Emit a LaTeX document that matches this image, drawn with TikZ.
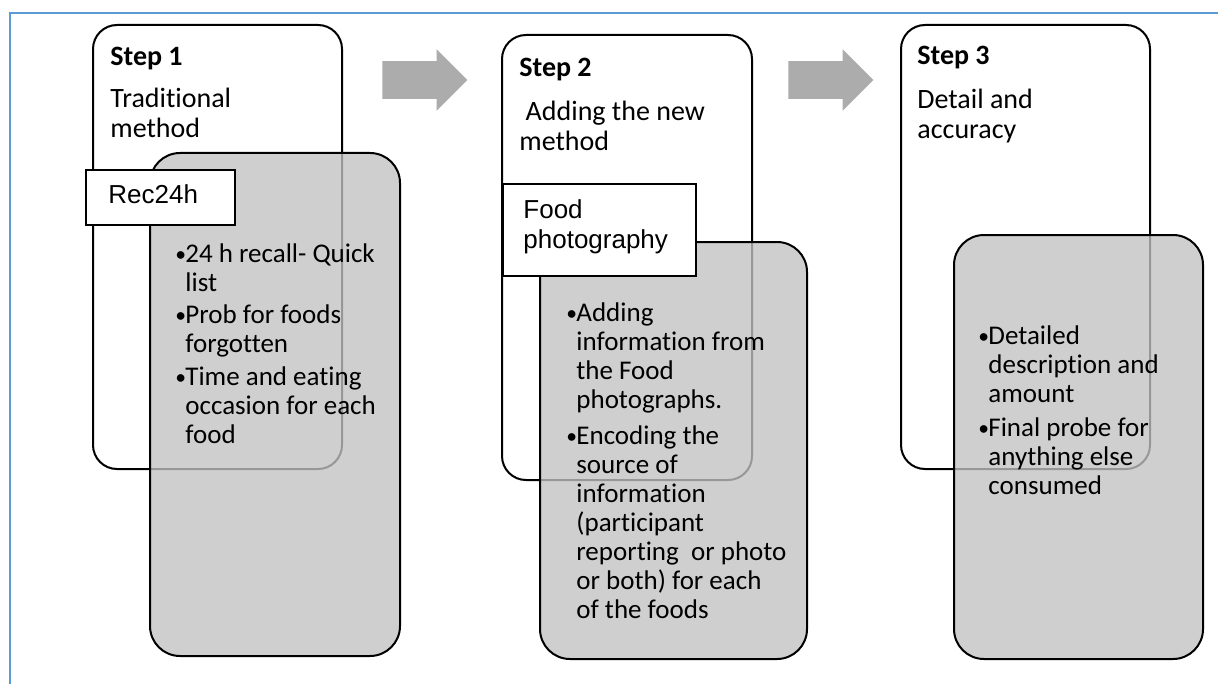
\documentclass[tikz,border=0pt]{standalone}
\usepackage{fontspec}
\usepackage{graphicx}
\setmainfont{Carlito}[Ligatures=NoCommon]
\newfontfamily\arialfont{Liberation Sans}
\usetikzlibrary{shapes.arrows,fit}
\definecolor{frameblue}{HTML}{5B9BD5}
\definecolor{boxgray}{HTML}{C2C2C2}
\tikzstyle{stepbox}=[draw=black,line width=1pt,rounded corners=12pt,fill=white,inner sep=0pt]
\tikzstyle{notebox}=[draw=black,line width=1pt,rounded corners=15pt,fill=boxgray,fill opacity=0.78,draw opacity=1,inner sep=0pt]
\tikzstyle{tagbox}=[draw=black,line width=1pt,fill=white,inner sep=0pt]
\tikzstyle{flowarrow}=[single arrow,fill=gray!65,draw=none,inner sep=0pt,minimum height=42.5pt,single arrow head extend=6pt,shape border rotate=0,anchor=tail]
\tikzstyle{stephead}=[anchor=base west,inner sep=0pt,font=\fontsize{14}{15}\selectfont\bfseries]
\tikzstyle{steptext}=[anchor=base west,inner sep=0pt,font=\fontsize{14}{15}\selectfont]
\tikzstyle{bullets}=[anchor=base west,inner sep=0pt,font=\fontsize{13.5}{14.5}\selectfont]
\tikzstyle{tagtext}=[anchor=base west,inner sep=0pt,font=\fontsize{13}{15}\arialfont]
\newcommand{\bul}{\makebox[5pt][l]{\raisebox{0.4pt}{\scalebox{0.8}{\textbullet}}}}
\newcommand{\shaft}{\rule[-9.25pt]{0pt}{18.5pt}}

\begin{document}
\begin{tikzpicture}[x=0.5pt,y=-0.5pt]
				\useasboundingbox (0,0) rectangle (1218,684);
				% frame on top and left
				\draw[frameblue,line width=1pt] (10,684) -- (10,13) -- (1218,13);

				% First the white step boxes
				\foreach \name/\xa/\ya/\xb/\yb in {s1/93/25/342/469, s2/502/35/752/480, s3/901/25/1150/469}
				\node[stepbox, fit={(\xa,\ya) (\xb,\yb)}] (\name) {};

				% grey note boxes over them
				\foreach \name/\xa/\ya/\xb/\yb in {n1/150/153/400/656, n2/540/242/807/659, n3/954/235/1203/659}
				\node[notebox, fit={(\xa,\ya) (\xb,\yb)}] (\name) {};

				% method tags
				\node[tagbox, fit={(86,170) (235,225)}] (tag1) {};
				\node[tagbox, fit={(503,184) (696,276)}] (tag2) {};
				\node[tagtext] (tag1text) at (108,204) {Rec24h};
				\node[tagtext] (tag2text) at (523,218) {\begin{tabular}[t]{@{}l@{}}Food\\photography\end{tabular}};

				% arrows between steps
				\node[flowarrow] (a12) at (382,80) {\shaft};
				\node[flowarrow] (a23) at (788,80) {\shaft};

				% headings
				\foreach \name/\x/\y/\num in {h1/110/66/1, h2/519/77/2, h3/917/65/3}
				\node[stephead] (\name) at (\x,\y) {Step \num};
				\node[steptext] (d1) at (110,108) {\begin{tabular}[t]{@{}l@{}}Traditional\\method\end{tabular}};
				\node[steptext] (d2) at (519,121) {\begin{tabular}[t]{@{}l@{}}\ Adding the new\\method\end{tabular}};
				\node[steptext] (d3) at (917,109) {\begin{tabular}[t]{@{}l@{}}Detail and\\accuracy\end{tabular}};

				% bullet lists
				\node[bullets] (l1) at (175,262) {\begin{tabular}[t]{@{}l@{}l@{}}
					\bul&24 h recall- Quick\\&list\\[1.75pt]
					\bul&Prob for foods\\&forgotten\\[1.75pt]
					\bul&Time and eating\\&occasion for each\\&food
				\end{tabular}};
				\node[bullets] (l2) at (566,321) {\begin{tabular}[t]{@{}l@{}l@{}}
					\bul&Adding\\&information from\\&the Food\\&photographs.\\[3.5pt]
					\bul&Encoding the\\&source of\\&information\\&(participant\\&reporting\ \ or photo\\&or both) for each\\&of the foods
				\end{tabular}};
				\node[bullets] (l3) at (978,344) {\begin{tabular}[t]{@{}l@{}l@{}}
					\bul&Detailed\\&description and\\&amount\\[2.5pt]
					\bul&Final probe for\\&anything else\\&consumed
				\end{tabular}};
\end{tikzpicture}
\end{document}
